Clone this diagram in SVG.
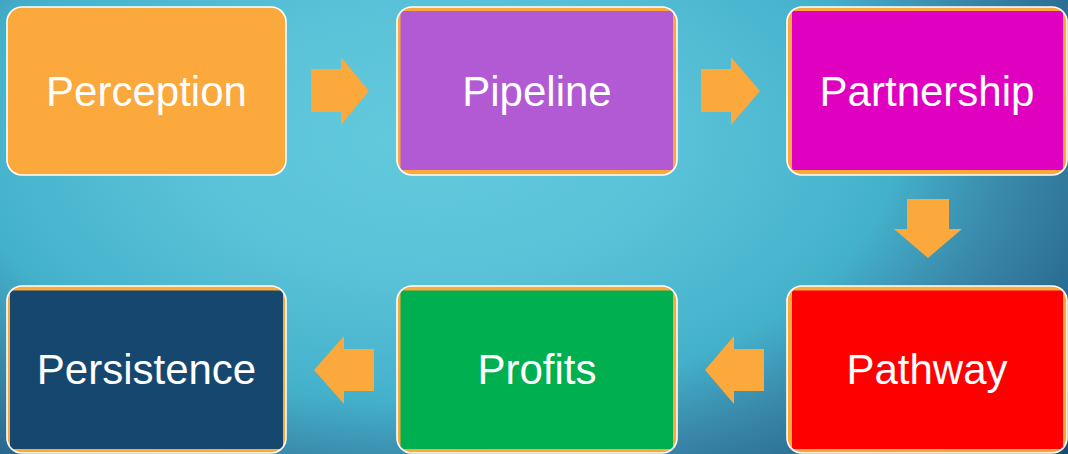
<svg xmlns="http://www.w3.org/2000/svg" width="1068" height="454" viewBox="0 0 1068 454">
  <defs>
    <radialGradient id="bg" gradientUnits="userSpaceOnUse" cx="430" cy="140" r="800" gradientTransform="translate(430 140) scale(1 0.5625) translate(-430 -140)">
      <stop offset="0" stop-color="#63cadd"/>
      <stop offset="0.3" stop-color="#5ac2d8"/>
      <stop offset="0.58" stop-color="#44b1cb"/>
      <stop offset="0.72" stop-color="#3a8aab"/>
      <stop offset="0.86" stop-color="#2b6c92"/>
      <stop offset="1" stop-color="#1b4a73"/>
    </radialGradient>
  </defs>
  <style>
    .frame { fill: #fba83c; }
    .edge { fill: none; stroke: #ffffff; stroke-width: 1.6; }
    .label { font-family: "Liberation Sans", Arial, sans-serif; font-size: 42px; fill: #ffffff; text-anchor: middle; }
    .arrow { fill: #fba83c; }
  </style>

  <rect width="1068" height="454" fill="url(#bg)"/>

  <!-- step arrows -->
  <g id="connectors">
    <polygon class="arrow" points="311,69 341,69 341,57 369,91 341,125 341,112 311,112"/>
    <polygon class="arrow" points="701,69 731,69 731,57 760,91 731,125 731,112 701,112"/>
    <polygon class="arrow" points="907,199 949,199 949,229 962,229 928,258 894,229 907,229"/>
    <polygon class="arrow" points="764,349 734,349 734,336 705,370 734,404 734,391 764,391"/>
    <polygon class="arrow" points="374,349 344,349 344,336 314,370 344,404 344,391 374,391"/>
  </g>

  <!-- top row -->
  <g id="perception">
    <rect class="frame" x="7" y="7" width="279" height="168" rx="15"/>
    <rect class="edge" x="7" y="7" width="279" height="168" rx="15"/>
    <text class="label" x="146.5" y="106">Perception</text>
  </g>
  <g id="pipeline">
    <rect class="frame" x="397" y="7" width="280" height="168" rx="15"/>
    <rect x="400.5" y="11" width="272.5" height="159" rx="2" fill="#b25ad4"/>
    <rect class="edge" x="397" y="7" width="280" height="168" rx="15"/>
    <text class="label" x="537" y="106">Pipeline</text>
  </g>
  <g id="partnership">
    <rect class="frame" x="787" y="7" width="280" height="168" rx="15"/>
    <rect x="792" y="11" width="271" height="159" rx="2" fill="#e000bf"/>
    <rect class="edge" x="787" y="7" width="280" height="168" rx="15"/>
    <text class="label" x="927" y="106">Partnership</text>
  </g>

  <!-- bottom row -->
  <g id="persistence">
    <rect class="frame" x="7" y="286" width="279" height="167" rx="15"/>
    <rect x="10" y="290.5" width="273" height="158.5" rx="2" fill="#16486f"/>
    <rect class="edge" x="7" y="286" width="279" height="167" rx="15"/>
    <text class="label" x="146.5" y="384">Persistence</text>
  </g>
  <g id="profits">
    <rect class="frame" x="397" y="286" width="280" height="167" rx="15"/>
    <rect x="400.5" y="290.5" width="272.5" height="158.5" rx="2" fill="#00b050"/>
    <rect class="edge" x="397" y="286" width="280" height="167" rx="15"/>
    <text class="label" x="537" y="384">Profits</text>
  </g>
  <g id="pathway">
    <rect class="frame" x="787" y="286" width="280" height="167" rx="15"/>
    <rect x="792" y="290.5" width="271" height="158.5" rx="2" fill="#ff0000"/>
    <rect class="edge" x="787" y="286" width="280" height="167" rx="15"/>
    <text class="label" x="927" y="384">Pathway</text>
  </g>
</svg>
